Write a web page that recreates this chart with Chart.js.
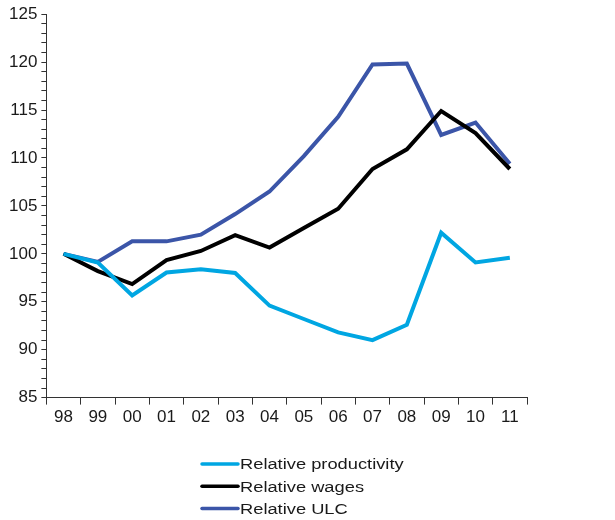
<!DOCTYPE html>
<html>
<head>
<meta charset="utf-8">
<script src="https://cdn.jsdelivr.net/npm/chart.js@4"></script>
<style>
  html, body { margin: 0; padding: 0; background: #fff; }
  #wrap { width: 615px; height: 520px; }
</style>
</head>
<body>
<div id="wrap"><canvas id="grafico"></canvas></div>
<script>
const years = ["98", "99", "00", "01", "02", "03", "04", "05", "06", "07", "08", "09", "10", "11"];
const productivity = [100, 99.1, 95.65, 98.05, 98.4, 98.0, 94.6, 93.2, 91.8, 91.0, 92.6, 102.2, 99.1, 99.6];
const wages = [100, 98.2, 96.85, 99.35, 100.3, 101.95, 100.65, 102.7, 104.7, 108.85, 110.9, 114.9, 112.6, 108.85];
const ulc = [100, 99.15, 101.3, 101.3, 102.0, 104.15, 106.5, 110.2, 114.3, 119.75, 119.85, 112.4, 113.7, 109.4];
const seriesNames = ["Relative productivity", "Relative wages", "Relative ULC"];
const seriesColors = ["#00a6e2", "#000000", "#3b55a8"];

// leyenda vertical abajo, dibujada a mano
const bottomLegend = {
  id: "bottomLegend",
  afterDraw(chart) {
    const ctx = chart.ctx;
    ctx.save();
    ctx.font = "15.5px 'Liberation Sans', Arial, sans-serif";
    ctx.textBaseline = "middle";
    ctx.fillStyle = "#1a1a1a";
    chart.data.datasets.forEach((ds, i) => {
      const y = 464 + i * 22.3;
      ctx.strokeStyle = ds.borderColor;
      ctx.lineWidth = 3.5;
      ctx.lineCap = "round";
      ctx.beginPath();
      ctx.moveTo(202, y);
      ctx.lineTo(238, y);
      ctx.stroke();
      // el texto original es algo mas ancho
      ctx.save();
      ctx.translate(240, y + 1);
      ctx.scale(1.18, 1);
      ctx.fillText(ds.label, 0, 0);
      ctx.restore();
    });
    ctx.restore();
  }
};

new Chart(document.getElementById("grafico"), {
  type: "line",
  data: {
    labels: years,
    datasets: [productivity, wages, ulc].map((vals, i) => ({
      label: seriesNames[i],
      data: vals,
      borderColor: seriesColors[i],
      backgroundColor: seriesColors[i],
      borderWidth: 4,
      pointRadius: 0,
      tension: 0,
      borderJoinStyle: "miter"
    }))
  },
  options: {
    responsive: true,
    maintainAspectRatio: false,
    animation: false,
    layout: { padding: { top: 10, right: 88, bottom: 89, left: 5 } },
    plugins: {
      legend: { display: false },
      tooltip: { enabled: false }
    },
    scales: {
      x: {
        offset: true,
        grid: { offset: true, drawOnChartArea: false, tickLength: 7, color: "#333" },
        border: { color: "#333", width: 1 },
        ticks: {
          color: "#1a1a1a",
          padding: 3,
          font: { family: "'Liberation Sans', Arial, sans-serif", size: 17 },
          maxRotation: 0,
          autoSkip: false
        }
      },
      y: {
        min: 85,
        max: 125,
        grid: { drawOnChartArea: false, tickLength: 5, color: "#333" },
        border: { color: "#333", width: 1 },
        ticks: {
          stepSize: 1,
          autoSkip: false,
          color: "#1a1a1a",
          padding: 4,
          font: { family: "'Liberation Sans', Arial, sans-serif", size: 17 },
          callback: v => (v % 5 === 0 ? v : "")
        }
      }
    }
  },
  plugins: [bottomLegend]
});
</script>
</body>
</html>
